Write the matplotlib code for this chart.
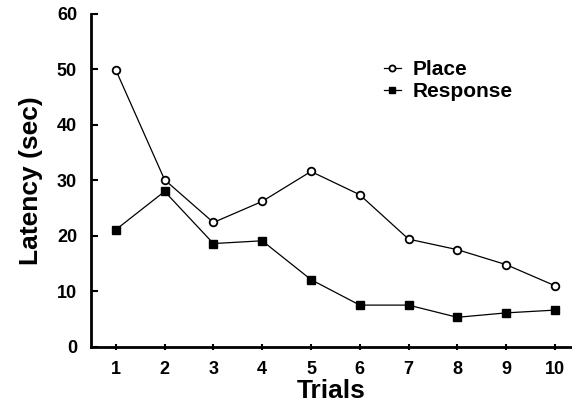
import matplotlib
matplotlib.use("Agg")
import matplotlib.pyplot as plt

trials = [1, 2, 3, 4, 5, 6, 7, 8, 9, 10]
place = [49.9, 30.1, 22.4, 26.2, 31.6, 27.4, 19.4, 17.5, 14.8, 11.0]
response = [21.1, 28.0, 18.6, 19.1, 12.1, 7.5, 7.5, 5.3, 6.1, 6.6]
yticks = [0, 10, 20, 30, 40, 50, 60]

plt.rcParams['font.family'] = ['Liberation Sans', 'DejaVu Sans']
plt.rcParams['font.weight'] = 'bold'

fig = plt.figure(figsize=(5.72, 4.03), dpi=100)
ax = fig.add_axes([0.159, 0.1397, 0.841, 0.8256])

ax.plot(trials, place, color='black', lw=0.9, marker='o', ms=5.5,
        mfc='white', mec='black', mew=1.3, label='Place')
ax.plot(trials, response, color='black', lw=0.9, marker='s', ms=5.5,
        mfc='black', mec='black', label='Response')

ax.set_xlim(0.49, 10.35)
ax.set_ylim(0, 60)
ax.set_xticks(trials)
ax.set_yticks(yticks)
ax.spines['top'].set_visible(False)
ax.spines['right'].set_visible(False)
ax.spines['left'].set_linewidth(2)
ax.spines['bottom'].set_linewidth(2)
ax.tick_params(axis='y', direction='in', length=5, width=1.5, labelsize=13, pad=10)
ax.tick_params(axis='x', direction='inout', length=5, width=1.5, labelsize=13, pad=8)
for lab in ax.get_xticklabels() + ax.get_yticklabels():
    lab.set_fontweight('bold')

ax.set_xlabel('Trials', fontsize=19, fontweight='bold', labelpad=0.5)
ax.set_ylabel('Latency (sec)', fontsize=19, fontweight='bold', labelpad=10)

leg = ax.legend(loc='upper left', bbox_to_anchor=(0.57, 0.918), frameon=False,
                handlelength=0.8, handletextpad=0.6, fontsize=15,
                labelspacing=0.15, markerscale=0.8)
for t in leg.get_texts():
    t.set_fontweight('bold')

fig.savefig('out.png', dpi=100)
